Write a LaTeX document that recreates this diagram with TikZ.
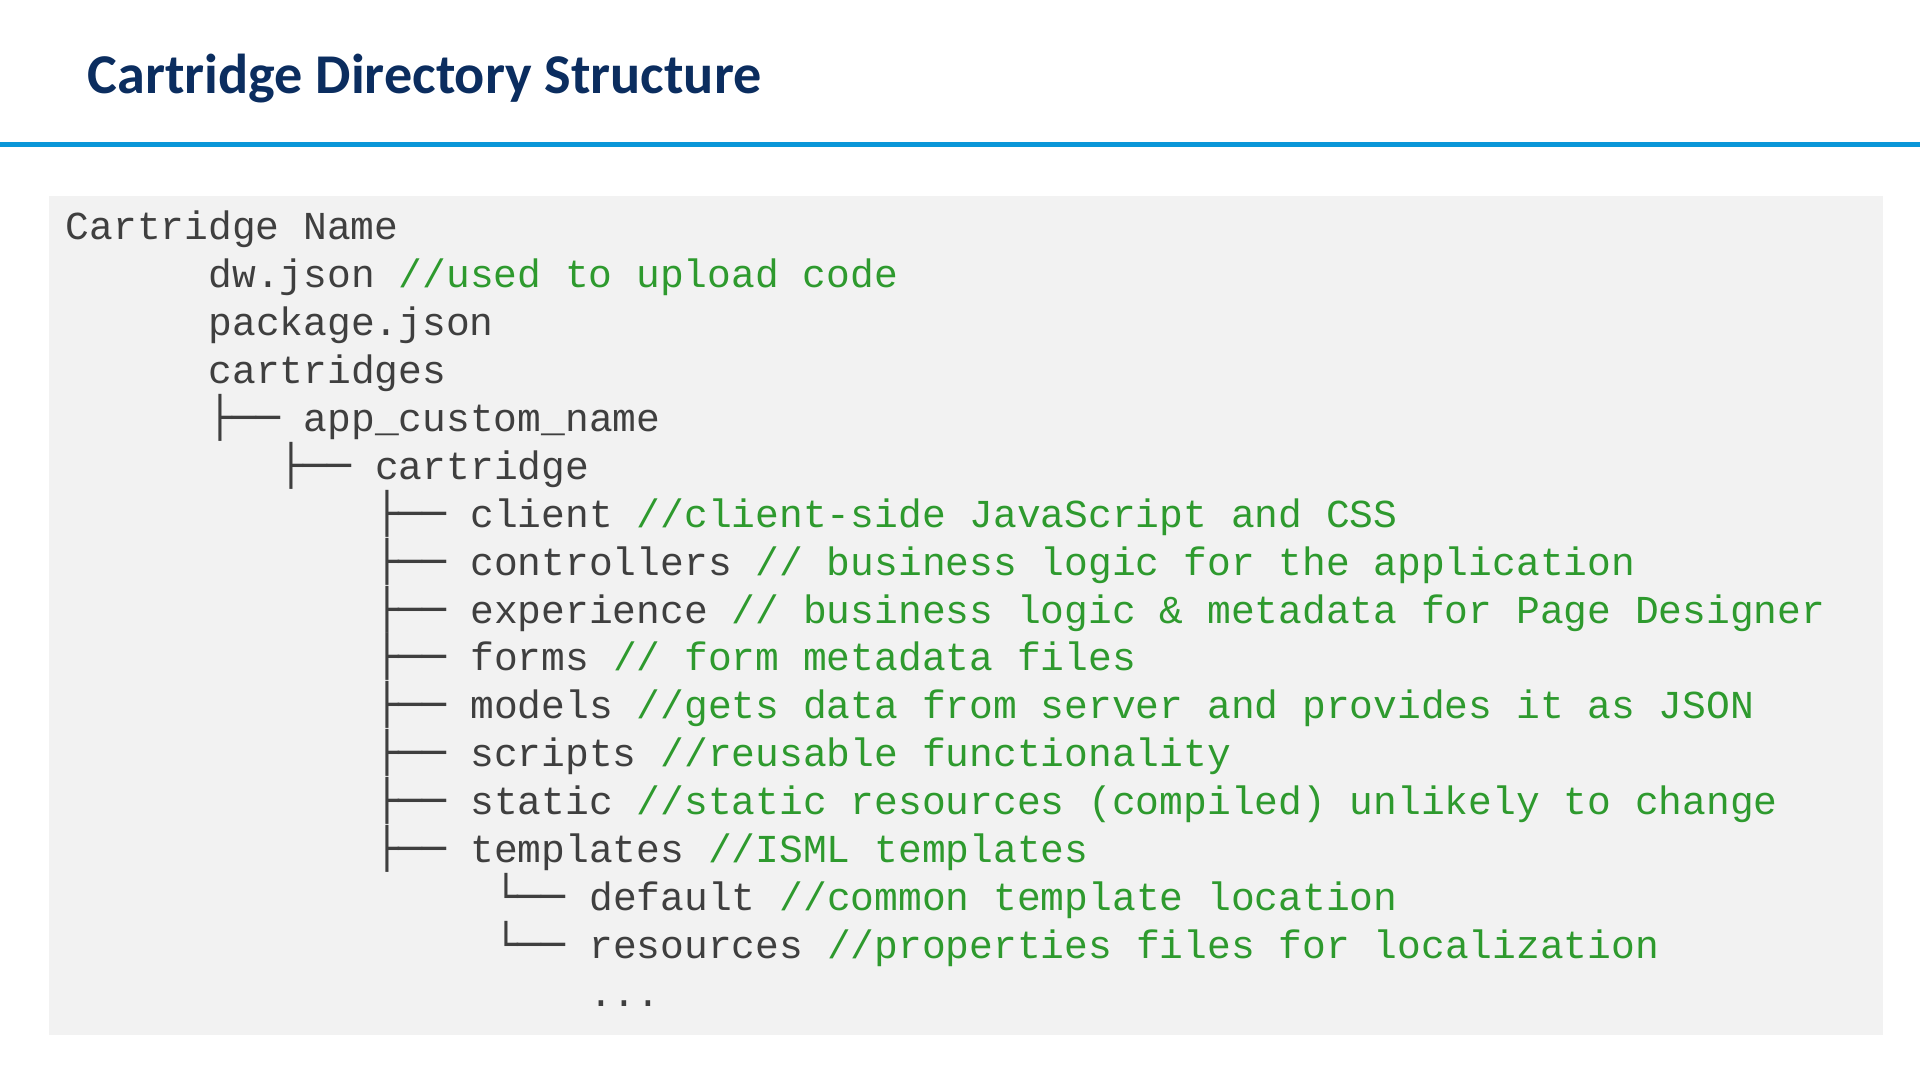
\documentclass[tikz,border=0pt]{standalone}
\usepackage{fontspec}
\setmonofont{Liberation Mono}
\newfontfamily\titlefont{Carlito}
\newfontfamily\bx{DejaVu Sans Mono}
\definecolor{titleblue}{HTML}{0B2D5F}
\definecolor{rule}{HTML}{0A96D8}
\definecolor{boxgray}{HTML}{F2F2F2}
\definecolor{code}{HTML}{3F3F3F}
\definecolor{cmt}{HTML}{2E9A2E}
\newcommand{\cm}[1]{\textcolor{cmt}{#1}}
\newcommand{\treeT}{{\bx ├──}}
\newcommand{\treeL}{{\bx └──}}
\begin{document}
\begin{tikzpicture}[x=0.01cm,y=-0.01cm,
  ln/.style={anchor=base west,inner sep=0,text=code,font=\fontsize{9.2pt}{11pt}\ttfamily}]
\useasboundingbox (0,0) rectangle (1568,882);
\node[anchor=base west,inner sep=0,text=titleblue,font=\titlefont\bfseries\fontsize{13.05pt}{15pt}\selectfont] (title) at (71,76) {Cartridge Directory Structure};
\draw[rule,line width=0.04cm] (0,118) -- (1568,118);
\fill[boxgray] (40,160) rectangle (1538,845);
\def\cw{19.43}
\def\y#1{196+39.1*#1}
\node[ln] (r0) at (53,{\y0}) {Cartridge Name};
\node[ln] (r1) at ({53+6*\cw},{\y1}) {dw.json \cm{//used to upload code}};
\node[ln] (r2) at ({53+6*\cw},{\y2}) {package.json};
\node[ln] (r3) at ({53+6*\cw},{\y3}) {cartridges};
\node[ln] (r4) at ({53+6*\cw},{\y4}) {\treeT{} app\_custom\_name};
\node[ln] (r5) at ({53+9*\cw},{\y5}) {\treeT{} cartridge};
\node[ln] (r6) at ({53+13*\cw},{\y6}) {\treeT{} client \cm{//client-side JavaScript and CSS}};
\node[ln] (r7) at ({53+13*\cw},{\y7}) {\treeT{} controllers \cm{// business logic for the application}};
\node[ln] (r8) at ({53+13*\cw},{\y8}) {\treeT{} experience \cm{// business logic \& metadata for Page Designer}};
\node[ln] (r9) at ({53+13*\cw},{\y9}) {\treeT{} forms \cm{// form metadata files}};
\node[ln] (r10) at ({53+13*\cw},{\y{10}}) {\treeT{} models \cm{//gets data from server and provides it as JSON}};
\node[ln] (r11) at ({53+13*\cw},{\y{11}}) {\treeT{} scripts \cm{//reusable functionality}};
\node[ln] (r12) at ({53+13*\cw},{\y{12}}) {\treeT{} static \cm{//static resources (compiled) unlikely to change}};
\node[ln] (r13) at ({53+13*\cw},{\y{13}}) {\treeT{} templates \cm{//ISML templates}};
\node[ln] (r14) at ({53+18*\cw},{\y{14}}) {\treeL{} default \cm{//common template location}};
\node[ln] (r15) at ({53+18*\cw},{\y{15}}) {\treeL{} resources \cm{//properties files for localization}};
\node[ln] (r16) at ({53+22*\cw},{\y{16}}) {...};
\end{tikzpicture}
\end{document}
